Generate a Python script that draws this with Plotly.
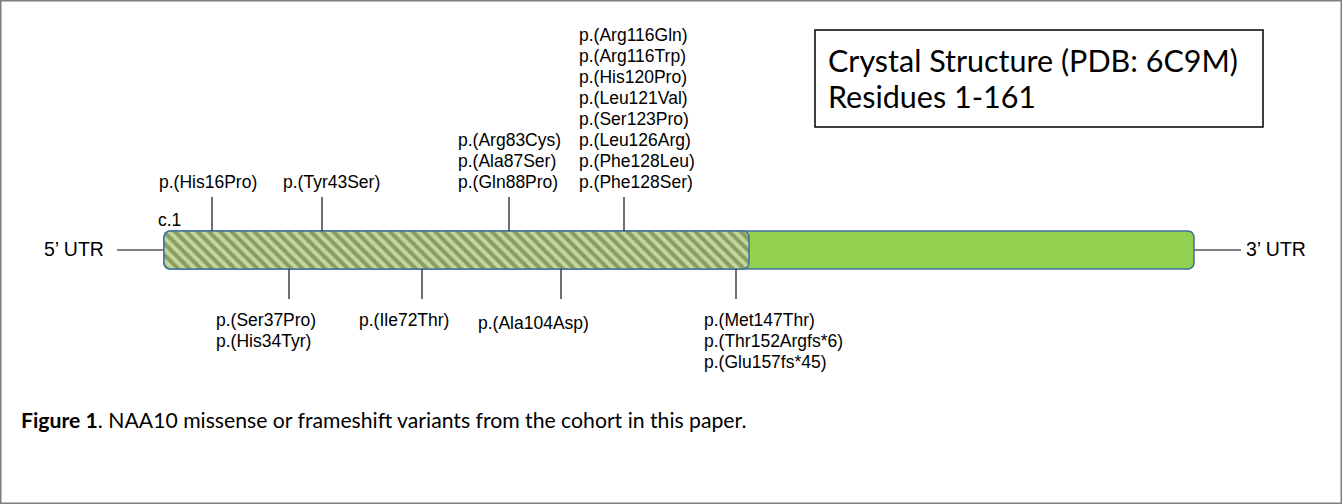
import numpy as np
import plotly.graph_objects as go

# ---------------- data ----------------
top_groups = [
    ["p.(His16Pro)"],
    ["p.(Tyr43Ser)"],
    ["p.(Arg83Cys)", "p.(Ala87Ser)", "p.(Gln88Pro)"],
    ["p.(Arg116Gln)", "p.(Arg116Trp)", "p.(His120Pro)", "p.(Leu121Val)",
     "p.(Ser123Pro)", "p.(Leu126Arg)", "p.(Phe128Leu)", "p.(Phe128Ser)"],
]
top_pos = [212, 322, 509, 624]          # position along the schematic

bottom_groups = [
    ["p.(Ser37Pro)", "p.(His34Tyr)"],
    ["p.(Ile72Thr)"],
    ["p.(Ala104Asp)"],
    ["p.(Met147Thr)", "p.(Thr152Argfs*6)", "p.(Glu157fs*45)"],
]
bottom_pos = [289, 422, 561, 736]

cds_start = 164      # c.1
struct_end = 749     # end of crystal-structure region (residues 1-161)
cds_end = 1194       # end of coding region

box_lines = ["Crystal Structure (PDB: 6C9M)", "Residues 1-161"]
caption_bold = "Figure 1"
caption_rest = ". NAA10 missense or frameshift variants from the cohort in this paper."

# ---------------- layout constants ----------------
W, H = 1342, 504
bar_top, bar_bot = 231, 269
bar_mid = (bar_top + bar_bot) / 2
radius = 6
tick_len = 34
line_gap = 21
top_label_base = 182
bottom_label_base = 320
top_dx = [-55, -41, -53, -47]
bottom_dx = [-75, -65, -85, -34]
bottom_dy = [0, 0, 3, 0]
arial = "Liberation Sans, Arial, sans-serif"
calib = "Lato, Carlito, Calibri, sans-serif"
label_size = 17.5
border_col = "#41719c"


def rounded_rect(x0, x1, y0, y1, r, n=10):
    xs, ys = [], []
    corners = [((x1 - r, y0 + r), -90, 0), ((x1 - r, y1 - r), 0, 90),
               ((x0 + r, y1 - r), 90, 180), ((x0 + r, y0 + r), 180, 270)]
    for (cx, cy), a0, a1 in corners:
        for a in np.linspace(np.radians(a0), np.radians(a1), n):
            xs.append(cx + r * np.cos(a))
            ys.append(cy + r * np.sin(a))
    xs.append(xs[0]); ys.append(ys[0])
    return xs, ys


fig = go.Figure()

# UTR lines
fig.add_trace(go.Scatter(
    x=[cds_start - 47, cds_start, None, cds_end, cds_end + 47],
    y=[bar_mid, bar_mid, None, bar_mid, bar_mid],
    mode="lines", line=dict(color="#595959", width=1.5), hoverinfo="skip"))

# full coding bar (solid green)
xs, ys = rounded_rect(cds_start, cds_end, bar_top, bar_bot, radius)
fig.add_trace(go.Scatter(x=xs, y=ys, mode="lines", fill="toself",
                         fillcolor="#92d050", line=dict(color=border_col, width=1.5),
                         hoverinfo="skip"))

# crystal structure region (hatched)
xs, ys = rounded_rect(cds_start, struct_end, bar_top, bar_bot, radius)
fig.add_trace(go.Scatter(x=xs, y=ys, mode="lines", fill="toself",
                         fillcolor="#c3d69b",
                         fillpattern=dict(shape="\\", bgcolor="#c3d69b", fgcolor="#4f6228",
                                          size=8, solidity=0.5),
                         line=dict(color=border_col, width=1.5), hoverinfo="skip"))

# variant tick lines
tx, ty = [], []
for p in top_pos:
    tx += [p, p, None]
    ty += [bar_top, bar_top - tick_len, None]
for p in bottom_pos:
    tx += [p, p, None]
    ty += [bar_bot, bar_bot + 30, None]
fig.add_trace(go.Scatter(x=tx, y=ty, mode="lines",
                         line=dict(color="#404040", width=1.5), hoverinfo="skip"))

annotations = []
for grp, p, dx in zip(top_groups, top_pos, top_dx):
    n = len(grp)
    for i, t in enumerate(grp):
        annotations.append(dict(x=p + dx, y=top_label_base - (n - 1 - i) * line_gap,
                                text=t, xanchor="left", yanchor="middle", showarrow=False,
                                font=dict(family=arial, size=label_size, color="#000")))
for grp, p, dx, dy in zip(bottom_groups, bottom_pos, bottom_dx, bottom_dy):
    for i, t in enumerate(grp):
        annotations.append(dict(x=p + dx, y=bottom_label_base + dy + i * line_gap,
                                text=t, xanchor="left", yanchor="middle", showarrow=False,
                                font=dict(family=arial, size=label_size, color="#000")))

annotations += [
    dict(x=cds_start + 5, y=220, text="c.1", xanchor="center", yanchor="middle",
         showarrow=False, font=dict(family=arial, size=label_size, color="#000")),
    dict(x=cds_start - 58, y=bar_mid - 1, text="5\u2019 UTR", xanchor="right", yanchor="middle",
         showarrow=False, font=dict(family=arial, size=19.5, color="#000")),
    dict(x=cds_end + 50, y=bar_mid - 1, text="3\u2019 UTR", xanchor="left", yanchor="middle",
         showarrow=False, font=dict(family=arial, size=19.5, color="#000")),
    dict(x=826, y=60, text=box_lines[0], xanchor="left", yanchor="middle", showarrow=False,
         font=dict(family=calib, size=30.5, color="#000")),
    dict(x=826, y=96, text=box_lines[1], xanchor="left", yanchor="middle", showarrow=False,
         font=dict(family=calib, size=30.5, color="#000")),
    dict(x=19, y=420, text="<b>" + caption_bold + "</b>" + caption_rest,
         xanchor="left", yanchor="middle", showarrow=False,
         font=dict(family=calib, size=21.2, color="#000")),
]

shapes = [
    dict(type="rect", xref="x", yref="y", x0=815, x1=1263, y0=30, y1=127,
         line=dict(color="#000", width=1.5), fillcolor="rgba(0,0,0,0)"),
    dict(type="rect", xref="paper", yref="paper", x0=0, x1=1, y0=0, y1=1,
         line=dict(color="#7f7f7f", width=3), fillcolor="rgba(0,0,0,0)"),
]

fig.update_layout(
    width=W, height=H, margin=dict(l=0, r=0, t=0, b=0),
    paper_bgcolor="white", plot_bgcolor="white", showlegend=False,
    xaxis=dict(range=[0, W], visible=False, fixedrange=True),
    yaxis=dict(range=[H, 0], visible=False, fixedrange=True),
    annotations=annotations, shapes=shapes,
)

fig.write_html("out.html", config={"displayModeBar": False},
               post_script="document.body.style.margin='0';")
